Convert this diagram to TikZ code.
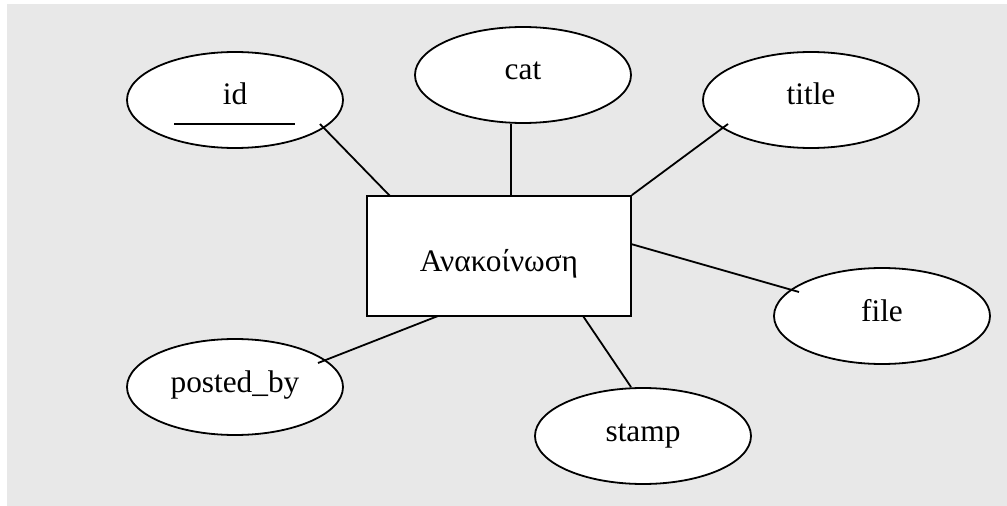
\documentclass[tikz,border=0pt]{standalone}
\usepackage{fontspec}
\setmainfont{Liberation Serif}
\usetikzlibrary{shapes.geometric}
\definecolor{bggray}{RGB}{232,232,232}
\begin{document}
\begin{tikzpicture}[x=0.75pt,y=-0.75pt,
  attr/.style={ellipse,draw,fill=white,line width=1.35pt,minimum width=162pt,minimum height=72pt,inner sep=0pt,text height=7.5pt,text depth=0pt,font=\fontsize{23.5}{28}\selectfont},
  entity/.style={rectangle,draw,fill=white,line width=1.35pt,minimum width=198pt,minimum height=90pt,inner sep=0pt,text height=24pt,text depth=0pt,font=\fontsize{23.5}{28}\selectfont},
  conn/.style={line width=1.35pt}]
\useasboundingbox (0,0) rectangle (1007,506);
\fill[bggray] (7,4) rectangle (1007,506);
\node[entity] (ent) at (499,256) {Ανακοίνωση};
\node[attr] (id) at (235,100) {id};
\node[attr] (cat) at (523,75) {cat};
\node[attr] (title) at (811,100) {title};
\node[attr] (file) at (882,316) {file};
\node[attr] (stamp) at (643,436) {stamp};
\node[attr] (pb) at (235,387) {posted\_by};
\draw[conn] ([shift={(-61,24)}]id.center) -- ([shift={(60,24)}]id.center);
\draw[conn] ([shift={(85,24)}]id.center) -- ([shift={(-109,-60)}]ent.center);
\draw[conn] ([shift={(-12,0)}]cat.south) -- ([shift={(12,-60)}]ent.center);
\draw[conn] ([shift={(-83,24)}]title.center) -- (ent.north east);
\draw[conn] ([shift={(-83,-24)}]file.center) -- ([shift={(132,-12)}]ent.center);
\draw[conn] ([shift={(-12,-49)}]stamp.center) -- ([shift={(84,60)}]ent.center);
\draw[conn] ([shift={(83,-24)}]pb.center) -- ([shift={(-61,60)}]ent.center);
\end{tikzpicture}
\end{document}
